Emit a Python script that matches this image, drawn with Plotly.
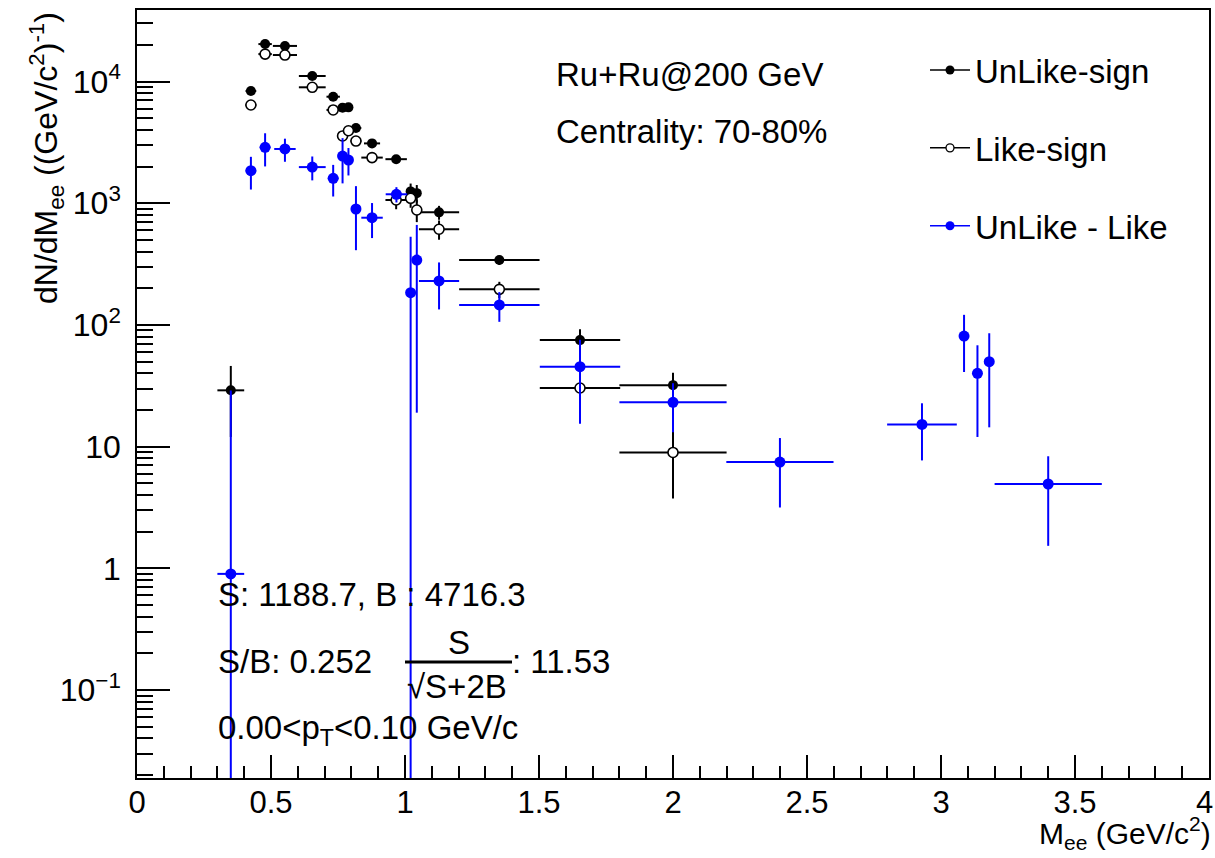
import plotly.graph_objects as go

# ---------------- data ----------------
# UnLike-sign (filled black)
unlike_x = [0.35, 0.425, 0.478, 0.552, 0.654, 0.732, 0.767, 0.789, 0.817, 0.877, 0.967, 1.021, 1.044, 1.127, 1.352, 1.653, 2.0]
unlike_y = [29, 8350, 20300, 19600, 11100, 7500, 6100, 6130, 4150, 3100, 2300, 1250, 1210, 841, 341, 75, 32]
unlike_ex = [0.05, 0.02, 0.025, 0.045, 0.05, 0.025, 0.01, 0.01, 0.02, 0.03, 0.04, 0.005, 0.005, 0.075, 0.15, 0.15, 0.2]
unlike_ey = [17, 300, 500, 500, 400, 330, 300, 300, 250, 200, 180, 200, 200, 110, 30, 17, 8.5]

# Like-sign (open black)
like_x = [0.425, 0.478, 0.552, 0.654, 0.732, 0.767, 0.789, 0.817, 0.877, 0.967, 1.021, 1.044, 1.127, 1.352, 1.653, 2.0]
like_y = [6410, 16800, 16500, 8960, 5840, 3570, 3940, 3240, 2370, 1062, 1097, 879, 611, 196, 30.3, 8.95]
like_ex = [0.02, 0.025, 0.045, 0.05, 0.025, 0.01, 0.01, 0.02, 0.04, 0.04, 0.005, 0.005, 0.075, 0.15, 0.15, 0.2]
like_ey = [250, 500, 500, 380, 320, 260, 270, 250, 210, 170, 180, 180, 110, 30, 10, 5.2]

# UnLike - Like (blue)
sig_x = [0.35, 0.425, 0.478, 0.552, 0.654, 0.732, 0.767, 0.789, 0.817, 0.877, 0.968, 1.021, 1.044, 1.127, 1.352,
         1.653, 2.0, 2.399, 2.929, 3.086, 3.136, 3.180, 3.40]
sig_y = [0.9, 1850, 2880, 2790, 1980, 1600, 2440, 2265, 896, 760, 1184, 184, 341, 230, 146,
         45.4, 23.1, 7.46, 15.2, 81, 40, 49.9, 4.93]
sig_ex = [0.05, 0.02, 0.02, 0.04, 0.05, 0.02, 0.01, 0.01, 0.01, 0.04, 0.04, 0.005, 0.005, 0.075, 0.15,
          0.15, 0.2, 0.2, 0.13, 0.005, 0.005, 0.005, 0.2]
sig_ey = [28, 555, 875, 600, 440, 465, 985, 575, 485, 243, 170, 347, 322, 96, 40,
          30, 10, 4.3, 7.5, 40, 28, 35.5, 3.4]

x_tickvals = [0, 0.5, 1, 1.5, 2, 2.5, 3, 3.5, 4]
x_ticktext = ["0", "0.5", "1", "1.5", "2", "2.5", "3", "3.5", "4\u00a0"]
y_tickvals = [0.1, 1, 10, 100, 1000, 10000]
y_ticktext = ["10<sup>\u22121</sup>", "1", "10", "10<sup>2</sup>", "10<sup>3</sup>", "10<sup>4</sup>"]
y_minor = [m * 10 ** e for e in range(-2, 5) for m in range(2, 10)]

legend_names = ["UnLike-sign", "Like-sign", "UnLike - Like"]

FONT = "Liberation Sans, Arial, Helvetica, sans-serif"
BLUE = "#0000ff"
BLACK = "#000000"
TXT = 33

fig = go.Figure()

fig.add_trace(go.Scatter(
    x=unlike_x, y=unlike_y, mode="markers", showlegend=False,
    marker=dict(symbol="circle", size=10, color=BLACK),
    error_x=dict(type="data", array=unlike_ex, color=BLACK, thickness=2, width=0),
    error_y=dict(type="data", array=unlike_ey, color=BLACK, thickness=2, width=0),
))
fig.add_trace(go.Scatter(
    x=like_x, y=like_y, mode="markers", showlegend=False,
    marker=dict(symbol="circle", size=10, color="white", line=dict(color=BLACK, width=1.6)),
    error_x=dict(type="data", array=like_ex, color=BLACK, thickness=2, width=0),
    error_y=dict(type="data", array=like_ey, color=BLACK, thickness=2, width=0),
))
fig.add_trace(go.Scatter(
    x=sig_x, y=sig_y, mode="markers", showlegend=False,
    marker=dict(symbol="circle", size=11, color=BLUE),
    error_x=dict(type="data", array=sig_ex, color=BLUE, thickness=2, width=0),
    error_y=dict(type="data", array=sig_ey, color=BLUE, thickness=2, width=0),
))

# legend entries
leg_styles = [
    dict(marker=dict(symbol="circle", size=9, color=BLACK), line=dict(color=BLACK, width=1.5)),
    dict(marker=dict(symbol="circle", size=8, color="white", line=dict(color=BLACK, width=1.3)), line=dict(color=BLACK, width=1.5)),
    dict(marker=dict(symbol="circle", size=9, color=BLUE), line=dict(color=BLUE, width=1.5)),
]
for name, st in zip(legend_names, leg_styles):
    fig.add_trace(go.Scatter(x=[None], y=[None], mode="lines+markers", name=name,
                             legendgroup=name, **st))

def px2paper_x(px):
    return (px - 137) / 1072.0

def px2paper_y(py):
    return (778 - py) / 768.0

annots = [
    dict(text="Ru+Ru@200 GeV", x=px2paper_x(554), y=px2paper_y(75), xanchor="left", yanchor="middle", size=TXT),
    dict(text="Centrality: 70-80%", x=px2paper_x(554), y=px2paper_y(131), xanchor="left", yanchor="middle", size=TXT),
    dict(text="S: 1188.7, B : 4716.3", x=px2paper_x(216), y=px2paper_y(594), xanchor="left", yanchor="middle", size=TXT),
    dict(text="S/B: 0.252", x=px2paper_x(216), y=px2paper_y(661), xanchor="left", yanchor="middle", size=TXT),
    dict(text="S", x=px2paper_x(459), y=px2paper_y(642), xanchor="center", yanchor="middle", size=TXT),
    dict(text="\u221aS+2B", x=px2paper_x(405), y=px2paper_y(686), xanchor="left", yanchor="middle", size=TXT),
    dict(text=": 11.53", x=px2paper_x(510), y=px2paper_y(661), xanchor="left", yanchor="middle", size=TXT),
    dict(text="0.00&lt;p<sub>T</sub>&lt;0.10 GeV/c", x=px2paper_x(216), y=px2paper_y(730), xanchor="left", yanchor="middle", size=TXT),
    dict(text="M<sub>ee</sub> (GeV/c<sup>2</sup>)", x=px2paper_x(1213), y=px2paper_y(856), xanchor="right", yanchor="bottom", size=30),
    dict(text="dN/dM<sub>ee</sub> ((GeV/c<sup>2</sup>)<sup>-1</sup>)", x=px2paper_x(46), y=px2paper_y(10),
         xanchor="center", yanchor="top", textangle=-90, size=32),
]
for a in annots:
    sz = a.pop("size")
    fig.add_annotation(xref="paper", yref="paper", showarrow=False,
                       font=dict(family=FONT, size=sz, color=BLACK), **a)

fig.add_shape(type="line", xref="paper", yref="paper",
              x0=px2paper_x(405), x1=px2paper_x(512), y0=px2paper_y(662), y1=px2paper_y(662),
              line=dict(color=BLACK, width=3))

fig.update_layout(
    width=1215, height=858,
    margin=dict(l=137, r=6, t=10, b=80, autoexpand=False),
    paper_bgcolor="white", plot_bgcolor="white",
    font=dict(family=FONT, color=BLACK),
    legend=dict(x=px2paper_x(925), y=px2paper_y(42), xanchor="left", yanchor="top",
                font=dict(family=FONT, size=TXT, color=BLACK), tracegroupgap=32,
                bgcolor="rgba(0,0,0,0)", itemwidth=40),
    xaxis=dict(range=[0, 4], tickmode="array", tickvals=x_tickvals, ticktext=x_ticktext,
               ticks="inside", ticklen=23, tickwidth=1.5,
               tickcolor=BLACK, showline=True, mirror=True, linecolor=BLACK, linewidth=1.5,
               showgrid=False, zeroline=False, tickfont=dict(family=FONT, size=31),
               ticklabeloverflow="allow", automargin=False, ticklabelstandoff=-4,
               minor=dict(dtick=0.1, tick0=0, ticks="inside", ticklen=12, tickwidth=1.5, tickcolor=BLACK, showgrid=False)),
    yaxis=dict(type="log", range=[-1.723, 4.5875], tickmode="array", tickvals=y_tickvals, ticktext=y_ticktext,
               ticks="inside", ticklen=33, tickwidth=1.5, tickcolor=BLACK, showline=True, mirror=True,
               linecolor=BLACK, linewidth=1.5, showgrid=False, zeroline=False, automargin=False,
               tickfont=dict(family=FONT, size=32), ticklabelstandoff=8,
               minor=dict(tickmode="array", tickvals=y_minor, ticks="inside", ticklen=16, tickwidth=1.5,
                          tickcolor=BLACK, showgrid=False)),
)

fig.write_html("out.html")
